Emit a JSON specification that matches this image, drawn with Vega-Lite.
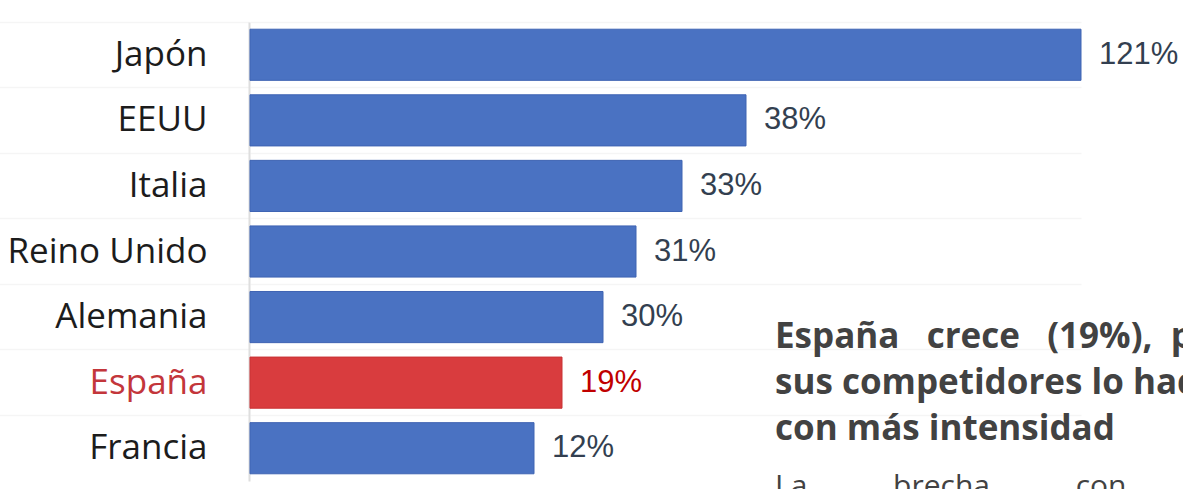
{
  "$schema": "https://vega.github.io/schema/vega-lite/v6.json",
  "autosize": {"type": "none"},
  "width": 855,
  "height": 459,
  "padding": {"left": 250, "top": 22, "right": 78, "bottom": 8},
  "background": "white",
  "config": {"view": {"stroke": null}},
  "title": {
    "text": ["España\u00a0\u00a0\u00a0crece\u00a0\u00a0\u00a0(19%),\u00a0\u00a0pero", "sus competidores lo hacen", "con más intensidad"],
    "subtitle": "La\u00a0\u00a0\u00a0\u00a0\u00a0\u00a0\u00a0\u00a0\u00a0\u00a0\u00a0brecha\u00a0\u00a0\u00a0\u00a0\u00a0\u00a0\u00a0\u00a0\u00a0\u00a0\u00a0con",
    "orient": "bottom",
    "anchor": "start",
    "frame": "group",
    "dx": 525,
    "dy": -165,
    "font": "Open Sans",
    "fontSize": 35,
    "fontWeight": "bold",
    "color": "#424242",
    "lineHeight": 46,
    "subtitleFont": "Open Sans",
    "subtitleFontSize": 30,
    "subtitleFontWeight": "normal",
    "subtitleColor": "#424242",
    "subtitlePadding": 25
  },
  "data": {
    "values": [
      {"country": "Japón", "growth": 1.21},
      {"country": "EEUU", "growth": 0.38},
      {"country": "Italia", "growth": 0.33},
      {"country": "Reino Unido", "growth": 0.31},
      {"country": "Alemania", "growth": 0.30},
      {"country": "España", "growth": 0.19},
      {"country": "Francia", "growth": 0.12}
    ]
  },
  "encoding": {
    "y": {
      "field": "country",
      "type": "nominal",
      "sort": null,
      "title": null,
      "scale": {"paddingInner": 0.22, "paddingOuter": 0.11},
      "axis": {
        "offset": 1,
        "domainColor": "#dedede",
        "domainWidth": 2,
        "ticks": true,
        "tickSize": 250,
        "tickColor": "#f5f5f5",
        "tickWidth": 1.5,
        "bandPosition": -0.14,
        "grid": true,
        "gridColor": "#f5f5f5",
        "gridWidth": 1.5,
        "labelPadding": -208,
        "labelLimit": 0,
        "labelFont": "Open Sans",
        "labelFontSize": 35,
        "labelColor": {"condition": {"test": "datum.value === 'España'", "value": "#c3363b"}, "value": "#1c1c1c"}
      }
    },
    "x": {
      "field": "growth",
      "type": "quantitative",
      "axis": null,
      "scale": {
        "domain": [0, 0.12, 0.19, 0.30, 0.31, 0.33, 0.38, 1.21],
        "range": [0, 284, 312, 353, 386, 432, 496, 831],
        "nice": false,
        "zero": false
      }
    }
  },
  "layer": [
    {
      "mark": {"type": "bar", "strokeWidth": 1},
      "encoding": {
        "color": {"condition": {"test": "datum.country === 'España'", "value": "#d93c3e"}, "value": "#4a72c2"},
        "stroke": {"condition": {"test": "datum.country === 'España'", "value": "#c93234"}, "value": "#3f64b3"}
      }
    },
    {
      "mark": {"type": "text", "align": "left", "baseline": "middle", "dx": 18, "font": "Liberation Sans", "fontSize": 31},
      "encoding": {
        "text": {"field": "growth", "format": ".0%"},
        "color": {"condition": {"test": "datum.country === 'España'", "value": "#c00000"}, "value": "#333f50"}
      }
    }
  ]
}
